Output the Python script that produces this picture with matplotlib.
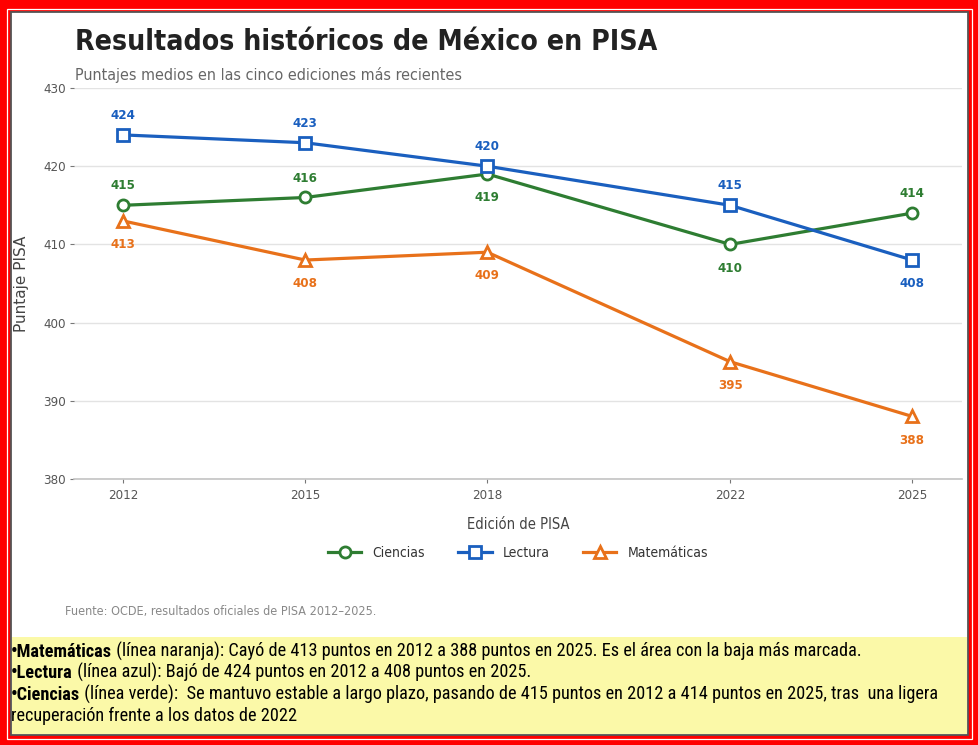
import matplotlib
matplotlib.use('Agg')
import matplotlib.pyplot as plt
from matplotlib.patches import Rectangle

# ---------------- data ----------------
years = [2012, 2015, 2018, 2022, 2025]
ciencias = [415, 416, 419, 410, 414]
lectura = [424, 423, 420, 415, 408]
matematicas = [413, 408, 409, 395, 388]
y_ticks = [380, 390, 400, 410, 420, 430]
series_names = ["Ciencias", "Lectura", "Matemáticas"]

title = "Resultados históricos de México en PISA"
subtitle = "Puntajes medios en las cinco ediciones más recientes"
x_label = "Edición de PISA"
y_label = "Puntaje PISA"
source = "Fuente: OCDE, resultados oficiales de PISA 2012–2025."

notes = [
    [("•Matemáticas", True), (" (línea naranja): Cayó de 413 puntos en 2012 a 388 puntos en 2025. Es el área con la baja más marcada.", False)],
    [("•Lectura", True), (" (línea azul): Bajó de 424 puntos en 2012 a 408 puntos en 2025.", False)],
    [("•Ciencias", True), (" (línea verde):  Se mantuvo estable a largo plazo, pasando de 415 puntos en 2012 a 414 puntos en 2025, tras  una ligera", False)],
    [("recuperación frente a los datos de 2022", False)],
]

# ---------------- style ----------------
plt.rcParams["font.family"] = ["DejaVu Sans"]
plt.rcParams["font.stretch"] = "condensed"

colors = ["#2e7d32", "#1a5fbf", "#e8711a"]
markers = ["o", "s", "^"]
label_side = [
    ["above", "above", "below", "below", "above"],
    ["above", "above", "above", "above", "below"],
    ["below", "below", "below", "below", "below"],
]

W, H = 979, 745
fig = plt.figure(figsize=(W / 100, H / 100), dpi=100)
fig.patch.set_facecolor("white")


def fx(x):
    return x / W


def fy(y):
    return 1 - y / H


def prect(x0, y0, x1, y1, **kw):
    r = Rectangle((fx(x0), fy(y1)), (x1 - x0) / W, (y1 - y0) / H,
                  transform=fig.transFigure, figure=fig, **kw)
    fig.add_artist(r)
    return r


# frame
prect(0, 0, W, H, facecolor="#ff0000", edgecolor="none", zorder=-10)
prect(7, 8.5, 972, 738.5, facecolor="none", edgecolor="white", linewidth=0.9, zorder=-9)
prect(10.5, 11.5, 968, 735, facecolor="white", edgecolor="#555555", linewidth=1.3, zorder=-8)
prect(11.5, 637, 967, 734, facecolor="#fbf9a8", edgecolor="none", zorder=-7)

# axes
ax = fig.add_axes([fx(74), fy(479), (962 - 74) / W, (479 - 88) / H])
ax.set_facecolor("none")
all_series = [ciencias, lectura, matematicas]
for vals, name, c, m, sides in zip(all_series, series_names, colors, markers, label_side):
    ax.plot(years, vals, color=c, linewidth=2.3, marker=m, markersize=8,
            markerfacecolor="white", markeredgecolor=c, markeredgewidth=2, label=name, zorder=3)
    for xv, yv, sd in zip(years, vals, sides):
        off = 14 if sd == "above" else -17
        ax.annotate(f"{yv}", (xv, yv), xytext=(0, off), textcoords="offset points",
                    ha="center", va="center", color=c, fontsize=9.5, fontweight="bold")

ax.set_xlim(2011.19, 2025.82)
ax.set_ylim(380, 430)
ax.set_yticks(y_ticks)
ax.set_xticks(years)
ax.grid(axis="y", color="#e3e3e3", linewidth=1)
ax.set_axisbelow(True)
for s in ["top", "right", "left"]:
    ax.spines[s].set_visible(False)
ax.spines["bottom"].set_color("#c4c4c4")
ax.spines["bottom"].set_linewidth(1.2)
ax.tick_params(axis="both", colors="#777777", labelcolor="#555555", labelsize=9.5, length=3, width=0.8)
ax.tick_params(axis="y", pad=3)
ax.tick_params(axis="x", pad=4)

ax.set_xlabel(x_label, fontsize=10.5, color="#444444")
ax.xaxis.set_label_coords(0.5, -0.097)
ax.set_ylabel(y_label, fontsize=11, color="#444444", fontstretch="normal")
ax.yaxis.set_label_coords(-0.051, 0.5)

leg = ax.legend(loc="center", bbox_to_anchor=(0.5, -0.189), ncol=3, frameon=False,
                fontsize=10, handlelength=2.4, columnspacing=2.4, handletextpad=0.8)
for t in leg.get_texts():
    t.set_color("#333333")

# titles
fig.text(fx(75), fy(42), title, fontsize=20.3, fontweight="bold", color="#222222", va="center", ha="left")
fig.text(fx(75), fy(75), subtitle, fontsize=11.5, color="#666666", va="center", ha="left")
fig.text(fx(65), fy(611), source, fontsize=9, color="#888888", va="center", ha="left")

# notes in yellow box (font size fitted to the box width of the first line)
renderer = fig.canvas.get_renderer()
note_family = ["Roboto Condensed", "DejaVu Sans"]


def draw_line(parts, x0, y_base, size, draw=True):
    x = x0
    made = []
    for s, bold in parts:
        t = fig.text(fx(x), fy(y_base), s, fontsize=size, family=note_family, fontstretch="condensed",
                     fontweight="bold" if bold else "normal", color="black", va="baseline", ha="left")
        x += t.get_window_extent(renderer).width
        made.append(t)
    if not draw:
        for t in made:
            t.remove()
    return x - x0


test_w = draw_line(notes[0], 11, 657, 10, draw=False)
note_size = 10 * 846 / test_w
baselines = [657, 678, 700, 721]
for parts, yb in zip(notes, baselines):
    draw_line(parts, 11, yb, note_size)

fig.savefig("out.png", dpi=100)
